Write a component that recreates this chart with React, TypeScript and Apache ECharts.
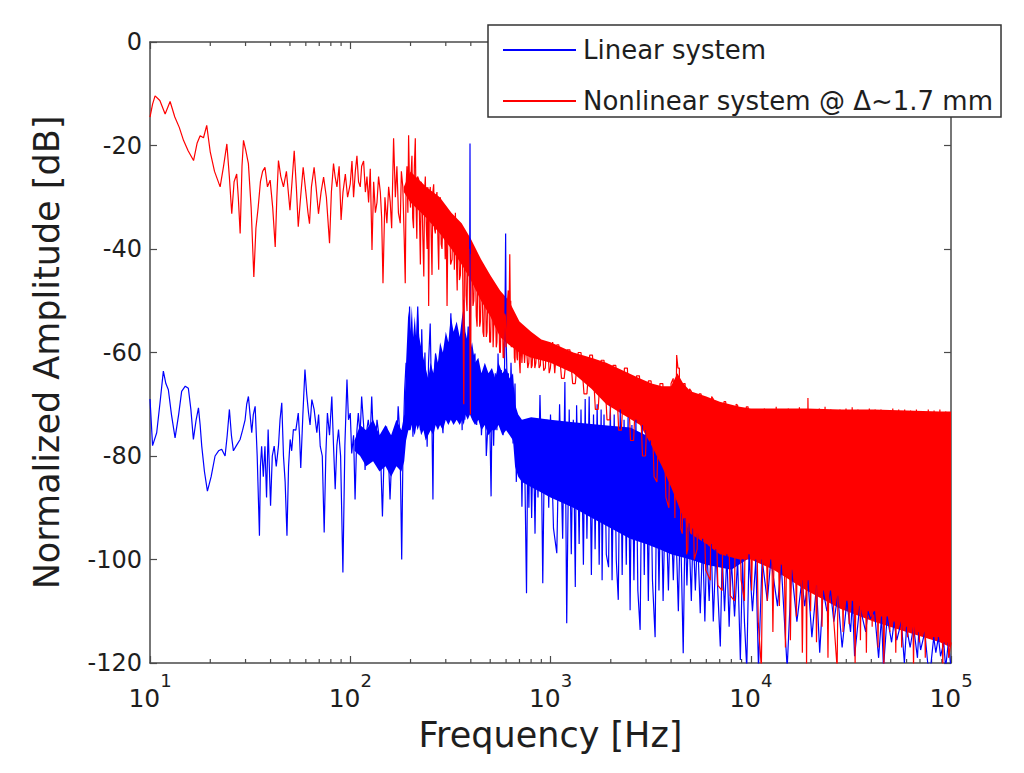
import React, { useEffect, useRef } from "react";
import * as echarts from "echarts";

// ---------- data ----------
const xMin = 10;
const xMax = 100000;
const yMin = -120;
const yMax = 0;
const yStep = 20;

const minorTicks = [
  20, 30, 40, 50, 60, 70, 80, 90,
  200, 300, 400, 500, 600, 700, 800, 900,
  2000, 3000, 4000, 5000, 6000, 7000, 8000, 9000,
  20000, 30000, 40000, 50000, 60000, 70000, 80000, 90000,
];

const linearName = "Linear system";
const nonlinearName = "Nonlinear system @ \u0394~1.7 mm";

// [frequency Hz, amplitude dB]
const linearLine: [number, number][] = [
  [10, -69], [10.3, -78], [10.8, -75.5], [11.2, -70], [11.66, -63.6], [12, -66], [12.35, -67.2],
  [12.8, -72], [13.34, -76.5], [13.9, -72], [14.39, -67.5], [15, -66.5], [15.54, -66.9], [16, -71],
  [16.47, -76.8], [17, -73], [17.46, -70.7], [17.8, -74], [18.13, -78.1], [18.7, -83], [19.35, -86.8],
  [20.2, -84], [21.13, -80], [22, -79], [22.81, -78.7], [23.71, -80], [24.3, -76], [24.92, -71],
  [25.5, -76], [26.1, -79], [27, -78], [28.18, -76.8], [29, -75], [29.85, -73], [30.4, -70],
  [31.01, -68.5], [31.6, -72], [32.22, -75.5], [32.8, -72], [33.5, -70.4], [34.3, -80], [35.2, -95.4],
  [35.6, -82], [36.1, -78.1], [36.8, -84], [37.5, -78.1], [38.2, -88], [38.9, -74.9], [40, -89.6],
  [40.8, -80], [41.7, -78.1], [42.7, -82], [43.8, -78.1], [44.6, -73], [45.5, -69.7], [46.4, -80],
  [47.3, -85], [48.3, -95.4], [49.2, -82], [50.1, -76.8], [51, -79], [52, -74.9], [53.5, -75],
  [55, -71.7], [55.8, -76], [56.6, -82.3], [58, -72], [59.4, -63.3], [60.6, -68], [61.9, -71.7],
  [63, -74], [64.3, -69.1], [66, -71], [68.1, -75.5], [69.5, -72], [70.8, -78.1], [72.5, -80],
  [74.1, -94.8], [75.5, -80], [76.9, -71.7], [78.8, -76], [80.9, -68.5], [82.5, -78], [84.1, -86.4],
  [85.7, -78], [87.4, -74.9], [89.5, -80], [91.9, -102.5], [94, -78], [96.3, -65.2], [98, -73],
  [100, -71.7], [101.7, -79.5], [103.9, -76], [105.7, -88.4], [108, -75], [109.7, -71.7], [112, -76],
  [114, -68.5], [116.6, -74], [118.6, -82.7], [121, -75], [123, -73], [125.9, -76], [128, -68.5],
  [130.9, -78], [133, -79.5], [136, -73], [138, -75], [141.3, -78], [144.8, -91.7], [148, -78],
  [151.8, -74.3], [155, -80], [158, -88.4], [162, -78], [167, -76.3], [170, -80], [173.5, -70.4],
  [177, -76], [180.7, -100], [183.5, -78], [186.9, -67.3], [190, -62], [194, -72], [197.8, -51.1],
  [201, -64], [205.7, -76.3], [208, -60], [211.2, -66.6], [214, -58], [217.3, -51.1], [221, -62],
  [224, -75], [227.5, -55.5], [232, -70], [236, -60], [242.1, -78.2], [246, -62], [250.8, -54.4],
  [255, -70], [258.8, -88.4], [262, -65], [266.7, -60.2], [273, -70], [280, -63], [285, -72],
  [290.5, -75.6], [295, -62], [300, -58], [309, -70], [318, -52.4], [325, -68], [332, -65],
  [338, -73], [343, -61], [350, -70], [356, -59], [362, -75], [368.8, -49.8], [373.5, -73],
  [380, -62], [388, -55], [393, -70], [396.3, -19.6], [399, -66.6], [405, -72], [412, -62],
  [419.5, -60.2], [428, -74], [436, -63], [444.6, -66.6], [452, -76], [461, -69.8], [470, -64],
  [478, -80], [488.5, -73], [494, -66], [505, -87.8], [512, -65], [520, -78], [530, -64],
  [540, -75], [547, -60.2], [555, -70], [567.5, -63.4], [580, -76], [590, -62], [597, -37],
  [601, -58], [608, -66.6], [616, -64], [625, -75], [635, -62], [650, -77.6], [665, -66],
  [675, -85], [688.6, -73], [700, -82], [710, -74], [720, -89.8], [730, -76], [745, -84],
  [759, -106.5], [770, -78], [780, -90], [790, -73], [805, -92], [820, -75], [837, -95],
  [850, -76], [866, -88], [886, -68.2], [900, -80], [915, -104.6], [935, -75], [960, -73],
  [980, -90], [1000, -72], [1035, -94], [1075, -98.8], [1110, -70], [1150, -96], [1180, -65.7],
  [1205, -112.3], [1240, -71], [1270, -99], [1300, -73], [1330, -105.3], [1350, -70.2], [1390, -97],
  [1420, -71], [1460, -101], [1490, -69], [1520, -96], [1560, -68.5], [1600, -103], [1640, -72],
  [1670, -98], [1710, -70], [1750, -101], [1790, -71], [1810, -104], [1850, -72], [1900, -99],
  [1950, -101.5], [1990, -70], [2030, -104], [2080, -72], [2130, -100], [2180, -107.8], [2230, -71],
  [2280, -103], [2330, -73], [2390, -101], [2440, -72.5], [2498, -109.8], [2550, -74], [2610, -104],
  [2670, -73], [2730, -106], [2803, -113.6], [2870, -74], [2940, -103], [3000, -75], [3080, -108],
  [3150, -77], [3230, -104], [3330, -115], [3400, -80], [3480, -106], [3560, -84], [3650, -108],
  [3750, -86], [3880, -106], [3980, -88], [4105, -104], [4200, -90], [4350, -110], [4450, -91],
  [4600, -118.1], [4700, -92], [4800, -105], [4900, -93], [5050, -108], [5150, -94], [5290, -106],
  [5420, -95], [5596, -110.4], [5750, -96], [5900, -112], [6026, -97], [6200, -108], [6350, -97],
  [6500, -112], [6700, -98], [7046, -116.8], [7200, -99], [7400, -110], [7600, -99], [7800, -113],
  [8000, -100], [8300, -111], [8600, -100], [8872, -119.4], [9100, -100], [9300, -112], [9550, -121],
  [9800, -99], [10200, -110], [10600, -100], [10930, -121], [11400, -100], [12100, -108],
  [12600, -100], [13600, -109], [14200, -101], [15200, -121], [16000, -102], [17000, -112],
  [18000, -104], [18600, -109], [19300, -104], [20200, -115], [21300, -105], [22100, -118],
  [23000, -106], [24000, -110], [25000, -106], [26000, -112], [27200, -107], [28600, -117],
  [30200, -108], [31500, -114], [32200, -108], [33000, -118.7], [35000, -109], [37500, -114],
  [38500, -110], [39600, -111.5], [41500, -110], [43500, -119], [45000, -111], [46000, -121],
  [48000, -111], [50500, -116], [52000, -112], [53600, -115.6], [56500, -112], [58500, -120],
  [60000, -113], [62500, -117], [65000, -113], [68000, -119], [69000, -114], [70500, -117.5],
  [74000, -114], [76500, -120], [79000, -121], [82000, -115], [84000, -118], [86500, -115],
  [88700, -118.7], [92000, -116], [94000, -121], [97000, -116], [100000, -121],
];

const nonlinearLine: [number, number][] = [
  [10, -14.5], [10.3, -12], [10.6, -10.4], [11.2, -11.3], [11.9, -13.9], [12.6, -11.5], [13.3, -14.5],
  [14, -16.5], [14.7, -19], [15.5, -21], [16.5, -22.9], [17.2, -19.5], [17.8, -18.1], [18.5, -18.5],
  [19.2, -16.1], [20, -21.3], [21, -25], [22.4, -28], [23.3, -24], [24.2, -19.7], [24.9, -26],
  [25.6, -33.2], [26.3, -27], [27.1, -25.5], [27.6, -30], [28.2, -37], [28.8, -24], [29.3, -19],
  [30.1, -21], [31, -23.5], [32, -32], [33, -45.4], [33.8, -36], [34.7, -31.9], [35.6, -27],
  [36.5, -25], [37.5, -24.2], [38.6, -28], [39.8, -26.7], [41, -32], [42.2, -39.6], [43, -30],
  [43.8, -22.9], [45, -26], [46.4, -28], [48, -25], [50, -32.5], [51.2, -27], [52.5, -21],
  [53.8, -28], [55, -35.7], [56.5, -30], [58.2, -24.2], [60, -29], [61.5, -33], [62.6, -35.1],
  [64, -28], [66, -24.2], [67.5, -28], [69.4, -33.2], [71.5, -29], [73.6, -26.1], [76, -30],
  [78.8, -38.9], [80.5, -29], [82.5, -23.5], [84, -26], [85.8, -28], [88, -24], [90, -34.4],
  [92, -29], [94.5, -25.5], [97, -30], [100, -27.4], [102, -23], [103.9, -30], [106, -25],
  [108, -22], [110, -27], [112.2, -28], [114, -24], [116.6, -23], [119, -29], [121.2, -26],
  [123.5, -31], [125.9, -24.5], [128.4, -40.2], [130.9, -27], [133.5, -33], [136, -31], [138.5, -26],
  [141.3, -29], [143.5, -34], [145.7, -46.6], [149, -30], [152.4, -35], [155.5, -28], [158.4, -31],
  [161, -36], [164.6, -18.6], [168, -30], [171, -24], [174, -33], [177.7, -35], [180, -25],
  [183, -28], [186, -38], [188.2, -46.6], [190, -28], [192, -24], [194, -33], [195.6, -18],
  [198, -29], [200, -32], [201.5, -25], [203.3, -22], [205, -34], [207, -36], [209, -24],
  [211.3, -18.6], [213, -31], [215, -38], [217, -26], [219.6, -26.5], [222, -35], [224, -43],
  [226, -27], [228.2, -30], [230.5, -38], [233, -45.3], [235, -29], [237.1, -26], [239.5, -35],
  [242, -40], [244, -28], [246.4, -51], [248.5, -30], [251, -28], [253.5, -37], [256, -45],
  [258.5, -29], [261, -27.5], [263.5, -36], [266, -37], [268.5, -30], [271, -29], [274, -38],
  [276.5, -44], [279, -31], [282, -30], [284.5, -39], [287.3, -40], [291, -32], [295, -33],
  [298, -42], [301, -34], [304.4, -51], [308, -33], [313, -33], [317, -43], [322.4, -42],
  [325, -35], [328, -34], [331, -44], [335, -33], [338, -40], [342, -48], [345, -36],
  [348, -36], [351, -46], [355, -45], [358, -37], [362, -37], [365, -47], [369, -70],
  [372, -39], [376, -39], [379, -49], [383, -52], [386, -40], [390.6, -40], [394, -49],
  [398.2, -72], [402, -41], [406, -41], [410, -51], [414, -50], [418, -43], [422, -43],
  [426, -53], [430, -55], [434, -44], [438.6, -44], [443, -55], [447, -54], [451, -46],
  [455, -46], [460, -56], [464.5, -57], [469, -47], [473, -47], [478, -57], [482, -56],
  [487, -48], [492, -48], [497, -58], [502, -58], [507, -49], [512, -49], [517, -59],
  [521, -59], [526, -50.5], [531, -51], [536, -59], [540, -58], [546, -51], [552, -51.5],
  [557, -60], [562, -60], [568, -52], [575, -52.5], [580, -61], [585, -61], [590, -52.5],
  [595, -53], [600, -59], [605, -56], [610, -50], [615, -48], [620, -55], [626, -41],
  [630, -52], [633, -50], [637, -59], [640, -58], [648, -53], [655.7, -54], [660, -61],
  [665, -62], [670, -55], [675, -55], [680, -61], [684, -61.5], [690, -55.5], [694.6, -56],
  [700, -62], [705, -64], [710, -56.5], [715, -56.5], [720, -62], [725, -62], [730, -57],
  [735.6, -57], [742, -62], [748, -62], [754, -57.5], [760, -57.5], [770, -63], [779.4, -62],
  [787, -57.5], [795, -57.5], [802, -63], [810, -62.5], [818, -58], [825.6, -58], [835, -63],
  [845, -62], [855, -58], [865, -58], [877, -63], [889.7, -62.5], [900, -58.5], [910, -58.5],
  [925, -63.5], [942.5, -63], [955, -58.5], [970, -58.5], [985, -64], [998.6, -63], [1025, -58],
  [1050, -64], [1075, -58.5], [1100, -58.5], [1135, -65], [1170, -65], [1210, -59.5], [1250, -59.5],
  [1290, -66], [1330, -66], [1375, -60], [1420, -60], [1470, -68], [1520, -68], [1570, -60.5],
  [1620, -60.5], [1675, -71], [1730, -71], [1790, -61.5], [1850, -61.5], [1915, -73], [1980, -73],
  [2050, -62.5], [2120, -62.5], [2190, -75], [2260, -75], [2340, -63], [2420, -63], [2510, -77],
  [2600, -77], [2690, -64.5], [2780, -64.5], [2880, -80], [2980, -80], [3080, -65.5], [3180, -65.5],
  [3290, -84], [3400, -85], [3520, -66], [3640, -66], [3770, -88], [3900, -90], [4000, -66],
  [4100, -65], [4180, -92], [4266, -60.5], [4330, -63], [4400, -63], [4470, -94], [4550, -95],
  [4620, -66], [4700, -66], [4780, -99], [4850, -98], [4950, -67], [5050, -67.5], [5220, -100],
  [5400, -98], [5520, -68], [5650, -68], [5950, -102], [6280, -104], [6380, -68.5], [6500, -69],
  [6850, -105], [7200, -106], [7350, -69.5], [7500, -69.5], [7900, -107], [8300, -108],
  [8450, -70], [8600, -70.2], [8950, -104], [9300, -108], [9500, -70.5], [9700, -70.5],
  [10100, -106], [10500, -71], [10900, -112], [11300, -121], [11700, -70.8], [12100, -108],
  [12500, -71], [12900, -114], [13400, -70.5], [13900, -109], [14400, -71], [14900, -117],
  [15400, -70.8], [15780, -115.6], [16300, -71], [16900, -111], [17500, -70.6], [18100, -118],
  [18700, -71], [19000, -121], [19300, -68.8], [19900, -110], [20600, -71], [21300, -116],
  [22000, -70.8], [22700, -113], [23500, -70.5], [24300, -119], [25100, -71], [26000, -112],
  [27000, -121], [27900, -71], [28900, -114], [29900, -70.8], [31000, -112.5], [32100, -70.6],
  [33200, -120], [34300, -71], [35300, -115.6], [36500, -71.2], [37800, -118], [39100, -70.8],
  [40400, -113], [41800, -71], [43200, -117], [44700, -71], [46200, -121], [47800, -71.2],
  [49500, -114], [51200, -70.8], [53000, -118], [54800, -71], [56700, -117], [58700, -71],
  [60700, -115], [62800, -71.2], [65000, -121], [67200, -71], [69500, -116], [71900, -71.3],
  [74400, -119], [77000, -71], [79600, -114], [82300, -71.2], [85100, -115.6], [88000, -71],
  [91000, -121], [94100, -71.4], [97300, -119], [100000, -116],
];

// dense cores of the spectra: [frequency Hz, upper dB, lower dB]
const linearBand: [number, number, number][] = [
  [105, -77, -79], [112, -74, -80], [120, -75, -82], [130, -73, -81], [140, -76, -83],
  [150, -74, -82], [160, -76, -84], [170, -73, -82], [180, -75, -83], [186, -72, -81],
  [190, -62, -77], [195, -52, -75], [200, -56, -75], [203, -51, -74], [206, -57, -75],
  [210, -53, -76], [214, -58, -74], [217, -51, -75], [221, -57, -74], [226, -59, -76],
  [232, -61, -75], [238, -63, -77], [245, -65, -76], [252, -62, -75], [260, -64, -76],
  [267, -60, -74], [274, -62, -75], [281, -58, -74], [290, -60, -75], [300, -56, -73],
  [309, -58, -74], [318, -53, -73], [328, -56, -74], [340, -54, -73], [352, -57, -74],
  [362, -53, -73], [369, -51, -74], [376, -56, -72], [386, -58, -73], [396, -60, -72],
  [406, -58, -73], [420, -62, -74], [436, -61, -73], [452, -64, -75], [470, -62, -74],
  [490, -64, -76], [510, -63, -75], [530, -65, -75], [550, -62, -74], [575, -64, -76],
  [600, -63, -75], [625, -65, -76], [650, -64, -77], [665, -70, -82], [690, -72, -84],
  [720, -73, -85], [800, -72.5, -86], [1000, -73, -88], [1300, -73.5, -90], [1800, -74, -93],
  [2500, -74.5, -96], [3000, -76, -97], [3500, -78, -98], [4000, -80, -99], [5000, -82, -100],
  [6000, -85, -101], [8000, -86, -102], [10000, -74, -99.5], [13000, -72, -101.5],
  [19000, -72, -105.5], [28000, -72, -109], [41000, -72, -111.5], [60000, -72, -113.5],
  [88000, -72, -115.5], [100000, -72, -116.5],
];

const nonlinearBand: [number, number, number][] = [
  [185, -28, -29], [200, -25, -31], [240, -28, -34], [280, -30, -37], [320, -33, -40],
  [360, -35, -43], [400, -38, -46], [450, -42, -50], [500, -45, -53], [560, -48, -57],
  [620, -50, -58.5], [700, -54, -60], [800, -56, -61], [900, -57.5, -61.5], [1000, -58, -62],
  [1300, -60, -64], [1600, -61, -67], [1900, -62, -70], [2300, -63.5, -72], [2800, -65, -74],
  [3200, -66, -78], [3600, -66.5, -82], [4000, -66.5, -86], [4300, -64, -89], [4600, -66, -92],
  [5000, -67.5, -95], [6000, -68.5, -97], [7000, -69.5, -99], [8800, -70.5, -100],
  [10000, -70.8, -100], [13000, -70.8, -102], [19000, -70.8, -106], [28000, -71, -109.5],
  [41000, -71, -112], [60000, -71.2, -114], [88000, -71.4, -116], [100000, -71.4, -117],
];

// ---------- styling ----------
const FONT = "DejaVu Sans";
const AXIS_COLOR = "#4a4a4a";
const TEXT_COLOR = "#1e1e1e";
const BLUE = "#0000ff";
const RED = "#ff0000";

function bandSeries(name: string, band: [number, number, number][], color: string) {
  return {
    type: "custom",
    name,
    silent: true,
    xAxisIndex: 0,
    yAxisIndex: 0,
    data: [[band[0][0], band[0][1]]],
    renderItem: (_params: any, api: any) => {
      const top = band.map((b) => api.coord([b[0], b[1]]));
      const bottom = band.map((b) => api.coord([b[0], b[2]])).reverse();
      return {
        type: "polygon",
        shape: { points: top.concat(bottom) },
        style: { fill: color },
      };
    },
  };
}

export default function App() {
  const ref = useRef<HTMLDivElement>(null);

  useEffect(() => {
    if (!ref.current) return;
    const chart = echarts.init(ref.current, undefined, { renderer: "svg" });

    const xAxisCommon = {
      type: "log",
      logBase: 10,
      min: xMin,
      max: xMax,
      splitLine: { show: false },
      axisLine: { show: true, onZero: false, lineStyle: { color: AXIS_COLOR, width: 1.5 } },
      axisTick: { show: true, inside: true, length: 7, lineStyle: { color: AXIS_COLOR, width: 1.2 } },
    };
    const yAxisCommon = {
      type: "value",
      min: yMin,
      max: yMax,
      interval: yStep,
      splitLine: { show: false },
      axisLine: { show: true, onZero: false, lineStyle: { color: AXIS_COLOR, width: 1.5 } },
      axisTick: { show: true, inside: true, length: 7, lineStyle: { color: AXIS_COLOR, width: 1.2 } },
    };

    const option: any = {
      animation: false,
      backgroundColor: "#ffffff",
      grid: { left: 150, top: 42, right: 73, bottom: 110, containLabel: false },
      legend: {
        data: [
          { name: linearName, icon: "rect" },
          { name: nonlinearName, icon: "rect" },
        ],
        orient: "vertical",
        left: 488,
        top: 25,
        itemWidth: 73,
        itemHeight: 2,
        itemGap: 21,
        padding: [10, 8, 1, 15],
        borderColor: "#333333",
        borderWidth: 1.5,
        backgroundColor: "#ffffff",
        selectedMode: false,
        textStyle: { fontFamily: FONT, fontSize: 26, color: TEXT_COLOR, lineHeight: 30, padding: [0, 0, 0, 2] },
      },
      xAxis: [
        {
          ...xAxisCommon,
          position: "bottom",
          name: "Frequency [Hz]",
          nameLocation: "middle",
          nameGap: 54,
          nameTextStyle: { fontFamily: FONT, fontSize: 35, color: TEXT_COLOR },
          axisLabel: {
            margin: 8,
            formatter: (v: number) => `{b|10}{s|${Math.round(Math.log10(v))}}`,
            rich: {
              b: { fontFamily: FONT, fontSize: 25, color: TEXT_COLOR, lineHeight: 40, verticalAlign: "bottom" },
              s: { fontFamily: FONT, fontSize: 18, color: TEXT_COLOR, lineHeight: 40, verticalAlign: "top" },
            },
          },
        },
        {
          ...xAxisCommon,
          position: "top",
          axisLabel: { show: false },
        },
      ],
      yAxis: [
        {
          ...yAxisCommon,
          position: "left",
          name: "Normalized Amplitude [dB]",
          nameLocation: "middle",
          nameGap: 86,
          nameRotate: 90,
          nameTextStyle: { fontFamily: FONT, fontSize: 35, color: TEXT_COLOR },
          axisLabel: { margin: 8, fontFamily: FONT, fontSize: 24, color: TEXT_COLOR },
        },
        {
          ...yAxisCommon,
          position: "right",
          axisLabel: { show: false },
        },
      ],
      series: [
        bandSeries("linear-core", linearBand, BLUE),
        {
          type: "line",
          name: linearName,
          xAxisIndex: 0,
          yAxisIndex: 0,
          data: linearLine,
          symbol: "none",
          showSymbol: false,
          clip: true,
          lineStyle: { color: BLUE, width: 1.2 },
          itemStyle: { color: BLUE },
        },
        bandSeries("nonlinear-core", nonlinearBand, RED),
        {
          type: "line",
          name: nonlinearName,
          xAxisIndex: 0,
          yAxisIndex: 0,
          data: nonlinearLine,
          symbol: "none",
          showSymbol: false,
          clip: true,
          lineStyle: { color: RED, width: 1.2 },
          itemStyle: { color: RED },
        },
        {
          type: "custom",
          name: "minor-ticks",
          silent: true,
          xAxisIndex: 0,
          yAxisIndex: 0,
          z: 2,
          data: minorTicks.map((f) => [f, yMin]),
          renderItem: (_params: any, api: any) => {
            const f = api.value(0);
            const b = api.coord([f, yMin]);
            const t = api.coord([f, yMax]);
            const style = { stroke: AXIS_COLOR, lineWidth: 1.2 };
            return {
              type: "group",
              children: [
                { type: "line", shape: { x1: b[0], y1: b[1], x2: b[0], y2: b[1] - 4 }, style },
                { type: "line", shape: { x1: t[0], y1: t[1], x2: t[0], y2: t[1] + 4 }, style },
              ],
            };
          },
        },
      ],
    };

    chart.setOption(option);
    return () => chart.dispose();
  }, []);

  return (
    <div
      ref={ref}
      style={{ position: "absolute", left: 0, top: 0, width: 1024, height: 773, background: "#fff" }}
    />
  );
}
